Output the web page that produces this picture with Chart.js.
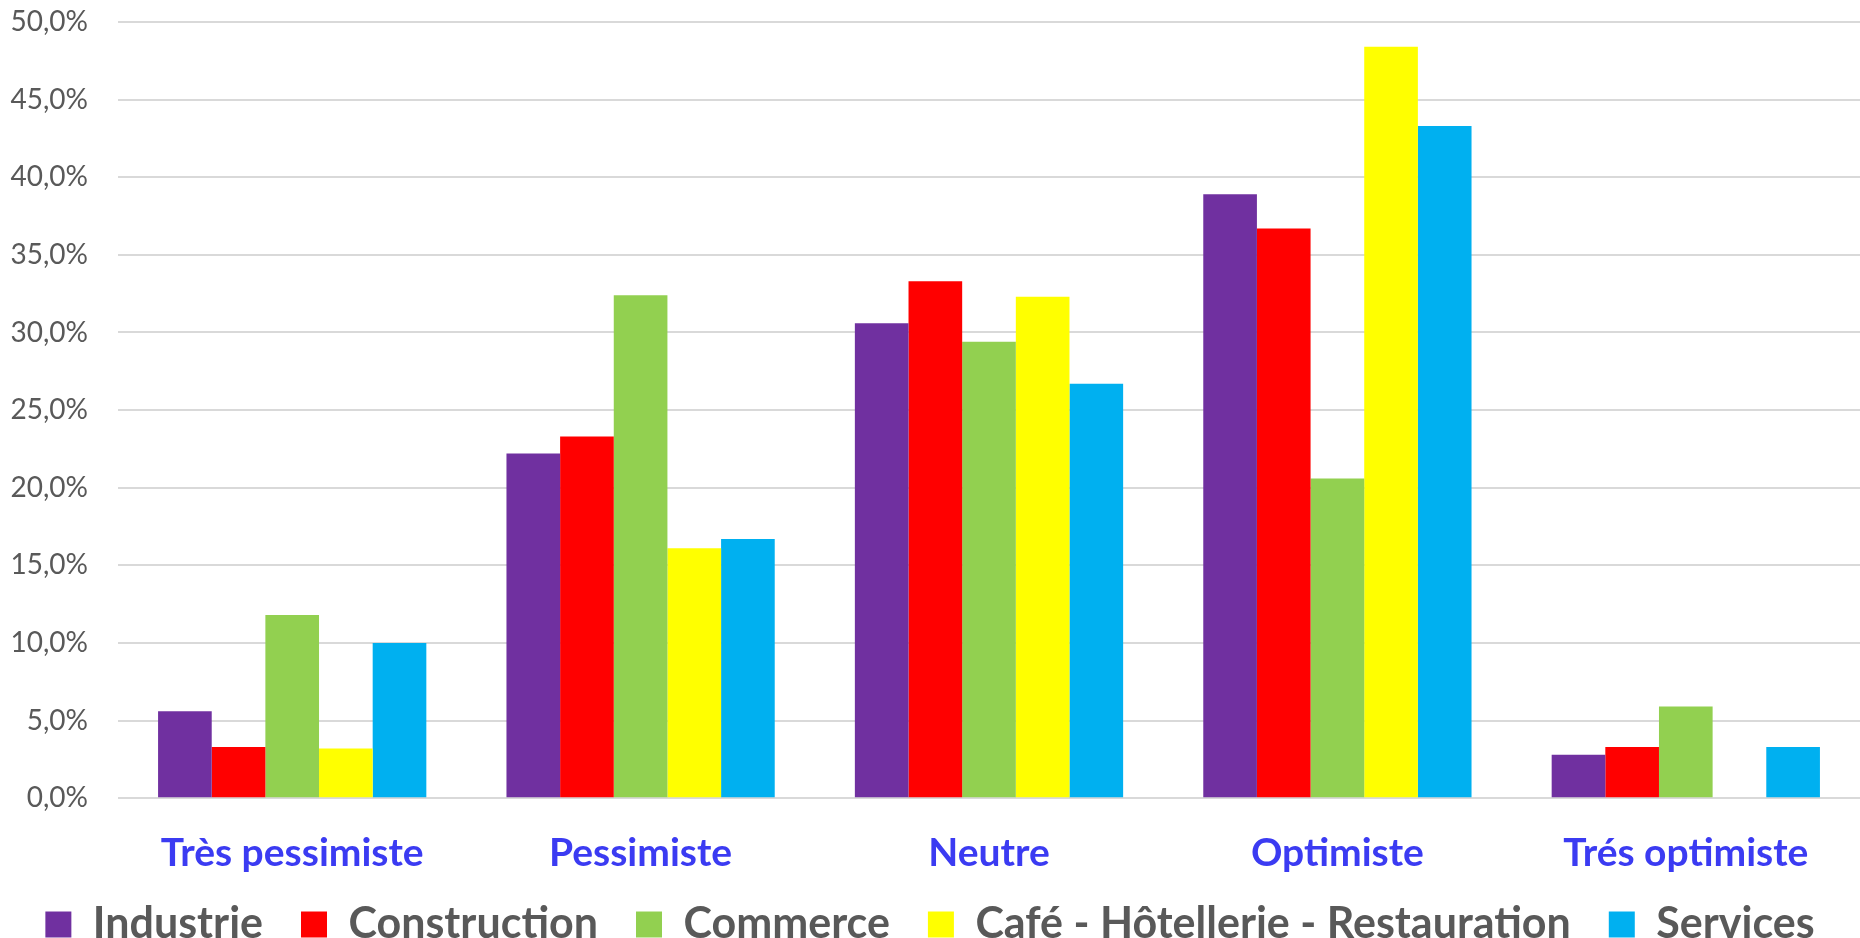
<!DOCTYPE html>
<html>
<head>
<meta charset="utf-8">
<script src="https://cdn.jsdelivr.net/npm/chart.js@4"></script>
<style>
  html, body { margin: 0; padding: 0; background: #fff; overflow: hidden; }
  #wrap { width: 1860px; height: 956px; }
</style>
</head>
<body>
<div id="wrap"><canvas id="barChart"></canvas></div>
<script>
// Données (%)
const categories = ['Très pessimiste', 'Pessimiste', 'Neutre', 'Optimiste', 'Trés optimiste'];
const seriesNames = ['Industrie', 'Construction', 'Commerce', 'Café - Hôtellerie - Restauration', 'Services'];
const industrie = [5.6, 22.2, 30.6, 38.9, 2.8];
const construction = [3.3, 23.3, 33.3, 36.7, 3.3];
const commerce = [11.8, 32.4, 29.4, 20.6, 5.9];
const cafe = [3.2, 16.1, 32.3, 48.4, 0];
const services = [10.0, 16.7, 26.7, 43.3, 3.3];
const colors = ['#7030A0', '#FF0000', '#92D050', '#FFFF00', '#00B0F0'];

const formatPct = (v) => v.toFixed(1).replace('.', ',') + '%';

const values = [industrie, construction, commerce, cafe, services];

new Chart(document.getElementById('barChart'), {
    type: 'bar',
    data: {
        labels: categories,
        datasets: seriesNames.map((name, i) => ({
            label: name,
            data: values[i],
            backgroundColor: colors[i],
            borderWidth: 0,
            barPercentage: 1,
            categoryPercentage: 0.77
        }))
    },
    options: {
        responsive: true,
        maintainAspectRatio: false,
        animation: false,
        layout: { padding: { top: 22, right: 0, left: 0, bottom: 0 } },
        scales: {
            x: {
                grid: { display: false },
                border: { display: false },
                afterFit: (scale) => {
                    scale.height -= 36;
                    // pas de découpe des libellés sous l'axe
                    scale._computeLabelArea = () => undefined;
                },
                ticks: {
                    color: '#3B3BF2',
                    padding: 24,
                    font: { family: 'Lato', size: 39, weight: 'bold' }
                }
            },
            y: {
                min: 0,
                max: 50,
                afterFit: (scale) => {
                    scale.width = 118;
                    scale.paddingTop = 0;
                    scale.paddingBottom = 0;
                },
                grid: { color: '#D9D9D9', lineWidth: 2, drawTicks: false },
                border: { display: false },
                ticks: {
                    stepSize: 5,
                    padding: 30,
                    color: '#595959',
                    font: { family: 'Lato', size: 28 },
                    callback: (v) => formatPct(v)
                }
            }
        },
        plugins: {
            tooltip: { enabled: false },
            legend: {
                position: 'bottom',
                labels: {
                    color: '#595959',
                    boxWidth: 26,
                    boxHeight: 26,
                    padding: 38,
                    font: { family: 'Lato', size: 43, weight: 'bold' }
                }
            }
        }
    }
});
</script>
</body>
</html>
